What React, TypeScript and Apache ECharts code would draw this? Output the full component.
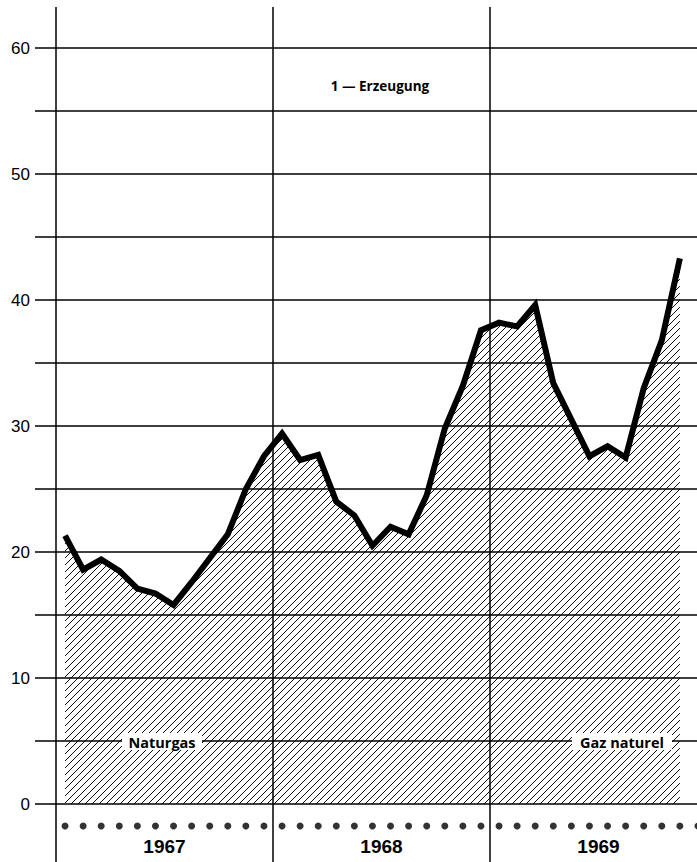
import React, { useEffect, useRef } from "react";
import * as echarts from "echarts";

// ---- data ----
const years = ["1967", "1968", "1969"];
const monthNames = ["Jan", "Feb", "Mär", "Apr", "Mai", "Jun", "Jul", "Aug", "Sep", "Okt", "Nov", "Dez"];
const months = years.flatMap((y) => monthNames.map((m) => `${m} ${y}`));

// Natural gas production (monthly), Jan 1967 – Nov 1969
const naturgas = [
  21.3, 18.6, 19.4, 18.5, 17.1, 16.7, 15.8, 17.6, 19.5, 21.4, 25.0, 27.6,
  29.4, 27.3, 27.7, 24.0, 22.9, 20.5, 22.0, 21.4, 24.5, 29.8, 33.2, 37.6,
  38.2, 37.9, 39.6, 33.4, 30.5, 27.6, 28.4, 27.5, 33.0, 36.8, 43.3,
];

const yLabelValues = [0, 10, 20, 30, 40, 50, 60];

// ---- layout / style constants ----
const DOT_ROW = -1.75; // row of month markers below the zero line
const FONT = '"Liberation Sans", Arial, sans-serif';
const LABEL_FONT = '"Open Sans", "DejaVu Sans", sans-serif';

const hatchSvg =
  "<svg xmlns='http://www.w3.org/2000/svg' width='7' height='7'>" +
  "<path d='M-1,1 L1,-1 M0,7 L7,0 M6,8 L8,6' stroke='black' stroke-width='0.95' fill='none'/></svg>";
const HATCH: any = {
  image: "data:image/svg+xml;charset=utf-8," + encodeURIComponent(hatchSvg),
  repeat: "repeat",
  imageWidth: 7,
  imageHeight: 7,
};

export default function App() {
  const ref = useRef<HTMLDivElement>(null);

  useEffect(() => {
    if (!ref.current) return;
    const chart = echarts.init(ref.current, null, { renderer: "svg" });

    const option: any = {
      animation: false,
      backgroundColor: "#fff",
      grid: [
        { left: 56, top: 48, width: 651, bottom: 58 },
        { left: 56, top: 7, width: 651, bottom: 0 },
      ],
      xAxis: [
        {
          type: "category",
          gridIndex: 0,
          data: months,
          boundaryGap: true,
          axisLine: { show: false },
          axisTick: { show: false },
          axisLabel: { show: false },
          splitLine: { show: false },
        },
        {
          type: "category",
          gridIndex: 1,
          data: years,
          boundaryGap: true,
          axisLine: { show: false },
          axisTick: { show: false },
          axisLabel: { show: false },
          splitLine: { show: true, interval: 0, lineStyle: { color: "#000", width: 1.5 } },
        },
        {
          type: "category",
          gridIndex: 0,
          data: years,
          position: "bottom",
          offset: 0,
          boundaryGap: true,
          axisLine: { show: false },
          axisTick: { show: false },
          splitLine: { show: false },
          axisLabel: {
            interval: 0,
            margin: 33,
            fontSize: 19,
            fontWeight: "bold",
            color: "#000",
            fontFamily: FONT,
          },
        },
      ],
      yAxis: [
        {
          type: "value",
          gridIndex: 0,
          min: 0,
          max: 60,
          interval: 5,
          axisLine: { show: false },
          axisTick: { show: true, length: 21, lineStyle: { color: "#000", width: 1.5 } },
          axisLabel: {
            margin: 26,
            fontSize: 17,
            color: "#000",
            fontFamily: FONT,
            formatter: (v: number) => (yLabelValues.includes(v) ? String(v) : ""),
          },
          splitLine: { show: true, lineStyle: { color: "#000", width: 1.5 } },
        },
        { type: "value", gridIndex: 1, show: false, min: 0, max: 1, splitLine: { show: false } },
      ],
      series: [
        {
          name: "Naturgas",
          type: "line",
          xAxisIndex: 0,
          yAxisIndex: 0,
          data: naturgas,
          symbol: "none",
          z: 5,
          lineStyle: { color: "#000", width: 6, join: "miter" },
          areaStyle: { color: HATCH, opacity: 1 },
        },
        {
          name: "Monate",
          type: "scatter",
          xAxisIndex: 0,
          yAxisIndex: 0,
          data: months.map(() => DOT_ROW),
          symbol: "circle",
          symbolSize: 7,
          clip: false,
          silent: true,
          itemStyle: { color: "#000" },
        },
      ],
      graphic: [
        {
          type: "text",
          z: 100,
          style: {
            text: "1 — Erzeugung",
            x: 380,
            y: 86,
            align: "center",
            verticalAlign: "middle",
            fontSize: 13.5,
            fontWeight: "bold",
            fontFamily: LABEL_FONT,
            fill: "#000",
          },
        },
        {
          type: "rect",
          z: 100,
          shape: { x: 122, y: 733, width: 80, height: 17 },
          style: { fill: "#fff" },
        },
        {
          type: "text",
          z: 101,
          style: {
            text: "Naturgas",
            x: 162,
            y: 742,
            align: "center",
            verticalAlign: "middle",
            fontSize: 14.5,
            fontWeight: "bold",
            fontFamily: LABEL_FONT,
            fill: "#000",
          },
        },
        {
          type: "rect",
          z: 100,
          shape: { x: 572, y: 733, width: 100, height: 17 },
          style: { fill: "#fff" },
        },
        {
          type: "text",
          z: 101,
          style: {
            text: "Gaz naturel",
            x: 622,
            y: 742,
            align: "center",
            verticalAlign: "middle",
            fontSize: 14.5,
            fontWeight: "bold",
            fontFamily: LABEL_FONT,
            fill: "#000",
          },
        },
      ],
    };

    chart.setOption(option);
    return () => chart.dispose();
  }, []);

  return (
    <div
      style={{
        position: "absolute",
        left: 0,
        top: 0,
        width: 697,
        height: 862,
        overflow: "hidden",
        background: "#fff",
      }}
    >
      <div ref={ref} style={{ width: 720, height: 862 }} />
    </div>
  );
}
